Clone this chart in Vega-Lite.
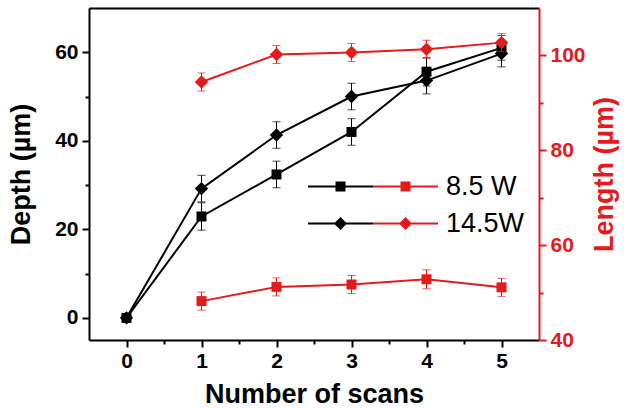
{
  "$schema": "https://vega.github.io/schema/vega-lite/v6.json",
  "width": 450,
  "height": 332,
  "autosize": {"type": "none"},
  "padding": {"left": 89, "top": 8, "right": 85, "bottom": 68},
  "background": "white",
  "config": {
    "view": {"stroke": null},
    "font": "Liberation Sans",
    "axis": {
      "labelFont": "Liberation Sans",
      "titleFont": "Liberation Sans",
      "labelFontWeight": "bold",
      "titleFontWeight": "bold",
      "labelFontSize": 21,
      "titleFontSize": 27,
      "grid": false,
      "domainWidth": 2,
      "tickWidth": 2,
      "tickSize": 7,
      "domainColor": "black",
      "tickColor": "black",
      "labelColor": "black",
      "titleColor": "black"
    },
    "legend": {
      "orient": "none",
      "title": null,
      "padding": 0,
      "offset": 0,
      "labelFont": "Liberation Sans",
      "labelFontSize": 27,
      "labelFontWeight": "normal",
      "symbolSize": 400,
      "symbolStrokeWidth": 0,
      "symbolOpacity": 1,
      "rowPadding": 9
    }
  },
  "datasets": {
    "depth": [
      {"scans": 0, "power": "8.5 W", "depth": 0, "err": 0},
      {"scans": 1, "power": "8.5 W", "depth": 22.9, "err": 3.1},
      {"scans": 2, "power": "8.5 W", "depth": 32.4, "err": 3.0},
      {"scans": 3, "power": "8.5 W", "depth": 42.0, "err": 3.0},
      {"scans": 4, "power": "8.5 W", "depth": 55.6, "err": 3.2},
      {"scans": 5, "power": "8.5 W", "depth": 61.0, "err": 2.8},
      {"scans": 0, "power": "14.5W", "depth": 0, "err": 0},
      {"scans": 1, "power": "14.5W", "depth": 29.2, "err": 3.0},
      {"scans": 2, "power": "14.5W", "depth": 41.3, "err": 3.0},
      {"scans": 3, "power": "14.5W", "depth": 50.0, "err": 3.0},
      {"scans": 4, "power": "14.5W", "depth": 53.6, "err": 3.0},
      {"scans": 5, "power": "14.5W", "depth": 59.7, "err": 3.0}
    ],
    "length": [
      {"scans": 1, "power": "8.5 W", "length": 48.2, "err": 1.9},
      {"scans": 2, "power": "8.5 W", "length": 51.2, "err": 1.9},
      {"scans": 3, "power": "8.5 W", "length": 51.7, "err": 1.9},
      {"scans": 4, "power": "8.5 W", "length": 52.8, "err": 2.0},
      {"scans": 5, "power": "8.5 W", "length": 51.1, "err": 1.9},
      {"scans": 1, "power": "14.5W", "length": 94.4, "err": 1.9},
      {"scans": 2, "power": "14.5W", "length": 100.2, "err": 1.9},
      {"scans": 3, "power": "14.5W", "length": 100.6, "err": 1.9},
      {"scans": 4, "power": "14.5W", "length": 101.3, "err": 1.9},
      {"scans": 5, "power": "14.5W", "length": 102.7, "err": 1.9}
    ]
  },
  "layer": [
    {
      "data": {"name": "depth"},
      "layer": [
        {
          "mark": {"type": "line", "color": "black", "strokeWidth": 2},
          "encoding": {
            "x": {"field": "scans", "type": "quantitative",
              "scale": {"domain": [-0.5, 5.5], "nice": false, "zero": false},
              "axis": {"orient": "bottom", "values": [0, 1, 2, 3, 4, 5], "title": "Number of scans", "labelPadding": 3, "titlePadding": 10, "labelFlush": false}},
            "y": {"field": "depth", "type": "quantitative",
              "scale": {"domain": [-5, 70], "nice": false, "zero": false},
              "axis": {"orient": "left", "values": [0, 20, 40, 60], "title": "Depth (µm)", "labelPadding": 4, "titlePadding": 19}},
            "detail": {"field": "power", "type": "nominal"}
          }
        },
        {
          "transform": [{"filter": "datum.err > 0"}],
          "mark": {"type": "errorbar", "color": "black", "thickness": 1, "ticks": {"size": 8, "thickness": 1}},
          "encoding": {
            "x": {"field": "scans", "type": "quantitative",
              "axis": {"orient": "top", "labels": false, "ticks": false, "title": null, "domain": true}},
            "y": {"field": "depth", "type": "quantitative",
              "axis": {"orient": "left", "values": [10, 30, 50], "labels": false, "domain": false, "title": null, "tickSize": 4}},
            "yError": {"field": "err"}
          }
        },
        {
          "transform": [{"filter": "datum.power == '8.5 W'"}],
          "mark": {"type": "point", "filled": true, "color": "black", "opacity": 1, "shape": "square", "size": 100},
          "encoding": {
            "x": {"field": "scans", "type": "quantitative", "axis": null},
            "y": {"field": "depth", "type": "quantitative", "axis": null}
          }
        },
        {
          "transform": [{"filter": "datum.power == '14.5W'"}],
          "mark": {"type": "point", "filled": true, "color": "black", "opacity": 1, "shape": "diamond", "size": 180},
          "encoding": {
            "x": {"field": "scans", "type": "quantitative", "axis": null},
            "y": {"field": "depth", "type": "quantitative", "axis": null}
          }
        },
        {
          "mark": {"type": "point", "filled": true, "color": "black", "opacity": 0},
          "encoding": {
            "x": {"field": "scans", "type": "quantitative", "axis": null},
            "y": {"field": "depth", "type": "quantitative", "axis": null},
            "shape": {"field": "power", "type": "nominal",
              "scale": {"domain": ["8.5 W", "14.5W"], "range": ["M-3.25,-0.1H3.25V0.1H-3.25ZM-0.5,-0.5H0.5V0.5H-0.5Z", "M-3.25,-0.1H3.25V0.1H-3.25ZM-0.65,0L0,-0.65L0.65,0L0,0.65Z"]},
              "legend": {"legendX": 238, "legendY": 165, "symbolFillColor": "black", "labelOpacity": 0}}
          }
        }
      ],
      "resolve": {"axis": {"x": "independent", "y": "independent"}}
    },
    {
      "data": {"name": "length"},
      "layer": [
        {
          "mark": {"type": "line", "color": "#e41a1c", "strokeWidth": 2},
          "encoding": {
            "x": {"field": "scans", "type": "quantitative",
              "axis": {"orient": "bottom", "values": [0.5, 1.5, 2.5, 3.5, 4.5], "labels": false, "domain": false, "title": null, "tickSize": 4}},
            "y": {"field": "length", "type": "quantitative",
              "scale": {"domain": [40, 110], "nice": false, "zero": false},
              "axis": {"orient": "right", "values": [40, 60, 80, 100], "title": "Length (µm)", "titleAngle": 270, "titleBaseline": "top", "domainColor": "#e41a1c", "tickColor": "#e41a1c", "labelColor": "#e41a1c", "titleColor": "#e41a1c", "labelPadding": 4, "titlePadding": 6}},
            "detail": {"field": "power", "type": "nominal"}
          }
        },
        {
          "mark": {"type": "errorbar", "color": "#e41a1c", "thickness": 1, "ticks": {"size": 8, "thickness": 1}},
          "encoding": {
            "x": {"field": "scans", "type": "quantitative", "axis": null},
            "y": {"field": "length", "type": "quantitative",
              "axis": {"orient": "right", "values": [50, 70, 90], "labels": false, "domain": false, "title": null, "tickSize": 4, "tickColor": "#e41a1c"}},
            "yError": {"field": "err"}
          }
        },
        {
          "transform": [{"filter": "datum.power == '8.5 W'"}],
          "mark": {"type": "point", "filled": true, "color": "#e41a1c", "opacity": 1, "shape": "square", "size": 100},
          "encoding": {
            "x": {"field": "scans", "type": "quantitative", "axis": null},
            "y": {"field": "length", "type": "quantitative", "axis": null}
          }
        },
        {
          "transform": [{"filter": "datum.power == '14.5W'"}],
          "mark": {"type": "point", "filled": true, "color": "#e41a1c", "opacity": 1, "shape": "diamond", "size": 180},
          "encoding": {
            "x": {"field": "scans", "type": "quantitative", "axis": null},
            "y": {"field": "length", "type": "quantitative", "axis": null}
          }
        },
        {
          "mark": {"type": "point", "filled": true, "color": "#e41a1c", "opacity": 0},
          "encoding": {
            "x": {"field": "scans", "type": "quantitative", "axis": null},
            "y": {"field": "length", "type": "quantitative", "axis": null},
            "shape": {"field": "power", "type": "nominal",
              "scale": {"domain": ["8.5 W", "14.5W"], "range": ["M-3.25,-0.1H3.25V0.1H-3.25ZM-0.5,-0.5H0.5V0.5H-0.5Z", "M-3.25,-0.1H3.25V0.1H-3.25ZM-0.65,0L0,-0.65L0.65,0L0,0.65Z"]},
              "legend": {"legendX": 303, "legendY": 165, "symbolFillColor": "#e41a1c", "labelOffset": 27}}
          }
        }
      ],
      "resolve": {"axis": {"x": "independent", "y": "independent"}}
    }
  ],
  "resolve": {"scale": {"y": "independent", "shape": "independent"}, "axis": {"x": "independent"}}
}
